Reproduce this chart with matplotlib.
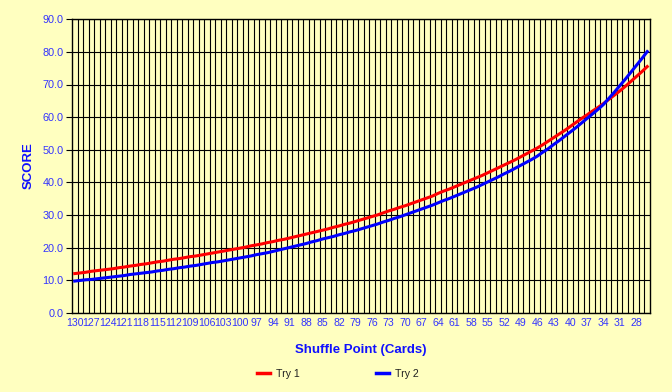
import numpy as np
import matplotlib.pyplot as plt
from matplotlib.lines import Line2D

plt.rcParams['font.family'] = ['Liberation Sans', 'DejaVu Sans']

# Shuffle point (cards), from 130 down to 26
cards = np.arange(130, 25, -1)

try1 = [12.0, 12.2, 12.4, 12.7, 12.9, 13.1, 13.3, 13.5, 13.8, 14.0,
        14.3, 14.5, 14.8, 15.0, 15.3, 15.6, 15.8, 16.1, 16.4, 16.6,
        16.9, 17.2, 17.4, 17.7, 18.0, 18.3, 18.6, 18.9, 19.2, 19.5,
        19.8, 20.1, 20.5, 20.8, 21.1, 21.5, 21.8, 22.2, 22.5, 22.9,
        23.3, 23.7, 24.1, 24.5, 24.9, 25.3, 25.7, 26.2, 26.6, 27.1,
        27.5, 28.0, 28.5, 29.0, 29.5, 30.0, 30.6, 31.2, 31.7, 32.3,
        32.8, 33.4, 34.0, 34.6, 35.2, 35.8, 36.6, 37.3, 37.9,
        38.6, 39.3, 40.0, 40.7, 41.4, 42.1, 42.9, 43.7, 44.5, 45.3,
        46.1, 46.9, 47.8, 48.7, 49.6, 50.5, 51.5, 52.6, 53.7, 54.8,
        55.9, 57.1, 58.3, 59.5, 60.6, 61.8, 62.9, 64.1, 65.4, 66.7,
        68.0, 69.4, 70.9, 72.4, 73.9, 75.5]

try2 = [9.7, 9.9, 10.1, 10.2, 10.4, 10.6, 10.8, 11.0, 11.2, 11.4,
        11.7, 11.9, 12.1, 12.3, 12.5, 12.8, 13.0, 13.3, 13.5, 13.8,
        14.0, 14.3, 14.5, 14.8, 15.1, 15.4, 15.6, 15.9, 16.2, 16.5,
        16.8, 17.1, 17.4, 17.8, 18.1, 18.4, 18.8, 19.2, 19.6, 20.0,
        20.4, 20.8, 21.2, 21.7, 22.1, 22.6, 23.0, 23.4, 23.9, 24.3,
        24.8, 25.2, 25.7, 26.2, 26.7, 27.2, 27.8, 28.3, 28.9, 29.4,
        30.0, 30.6, 31.2, 31.8, 32.4, 33.0, 33.7, 34.4, 35.0,
        35.7, 36.4, 37.1, 37.8, 38.5, 39.3, 40.1, 40.9, 41.7, 42.6,
        43.4, 44.3, 45.2, 46.1, 47.0, 48.0, 49.2, 50.3, 51.6, 52.8,
        54.1, 55.4, 56.7, 58.1, 59.5, 60.9, 62.3, 63.8, 65.7, 67.6,
        69.6, 71.6, 73.7, 75.8, 77.9, 80.1]

bg = '#FFFFC0'
tick_blue = '#3333FF'
title_blue = '#1010FF'

fig = plt.figure(figsize=(6.72, 3.92), dpi=100, facecolor=bg)
ax = fig.add_axes([72/672, 1 - 312.7/392, (650-72)/672, (312.7-19.3)/392])
ax.set_facecolor(bg)

x = np.arange(len(cards))
ax.plot(x, try1, color='#FF0000', lw=2.2, zorder=3)
ax.plot(x, try2, color='#0000FF', lw=2.2, zorder=3)

ax.set_xlim(-0.5, len(cards) - 0.5)
ax.set_ylim(0, 90)
ax.set_yticks(np.arange(0, 91, 10))
ax.set_yticklabels([f'{v:.1f}' for v in range(0, 91, 10)])
ax.set_xticks(x[::3])
ax.set_xticklabels([str(c) for c in cards[::3]])
ax.set_xticks(np.arange(0.5, len(cards) - 1, 1), minor=True)

ax.grid(True, which='minor', axis='x', color='black', lw=0.8)
ax.grid(True, which='major', axis='y', color='black', lw=0.8)
ax.tick_params(axis='x', which='both', length=0, pad=4, labelsize=7.6, labelcolor=tick_blue)
ax.tick_params(axis='y', length=4, width=0.8, pad=2, labelsize=7.8, labelcolor=tick_blue)
for s in ax.spines.values():
    s.set_color('black')
    s.set_linewidth(1.0)

ax.set_xlabel('Shuffle Point (Cards)', fontsize=9.5, fontweight='bold', color=title_blue, labelpad=11)
ax.set_ylabel('SCORE', fontsize=9.5, fontweight='bold', color=title_blue, labelpad=6)

handles = [Line2D([], [], color='#FF0000', lw=2.5), Line2D([], [], color='#0000FF', lw=2.5)]
fig.legend(handles, ['Try 1', 'Try 2'], loc='center', bbox_to_anchor=(338/672, 1 - 374/392),
           ncol=2, frameon=False, fontsize=7.6, handlelength=1.2, handletextpad=0.6,
           columnspacing=7.2, labelcolor='#202020')

fig.savefig('out.png', dpi=100, facecolor=bg)
